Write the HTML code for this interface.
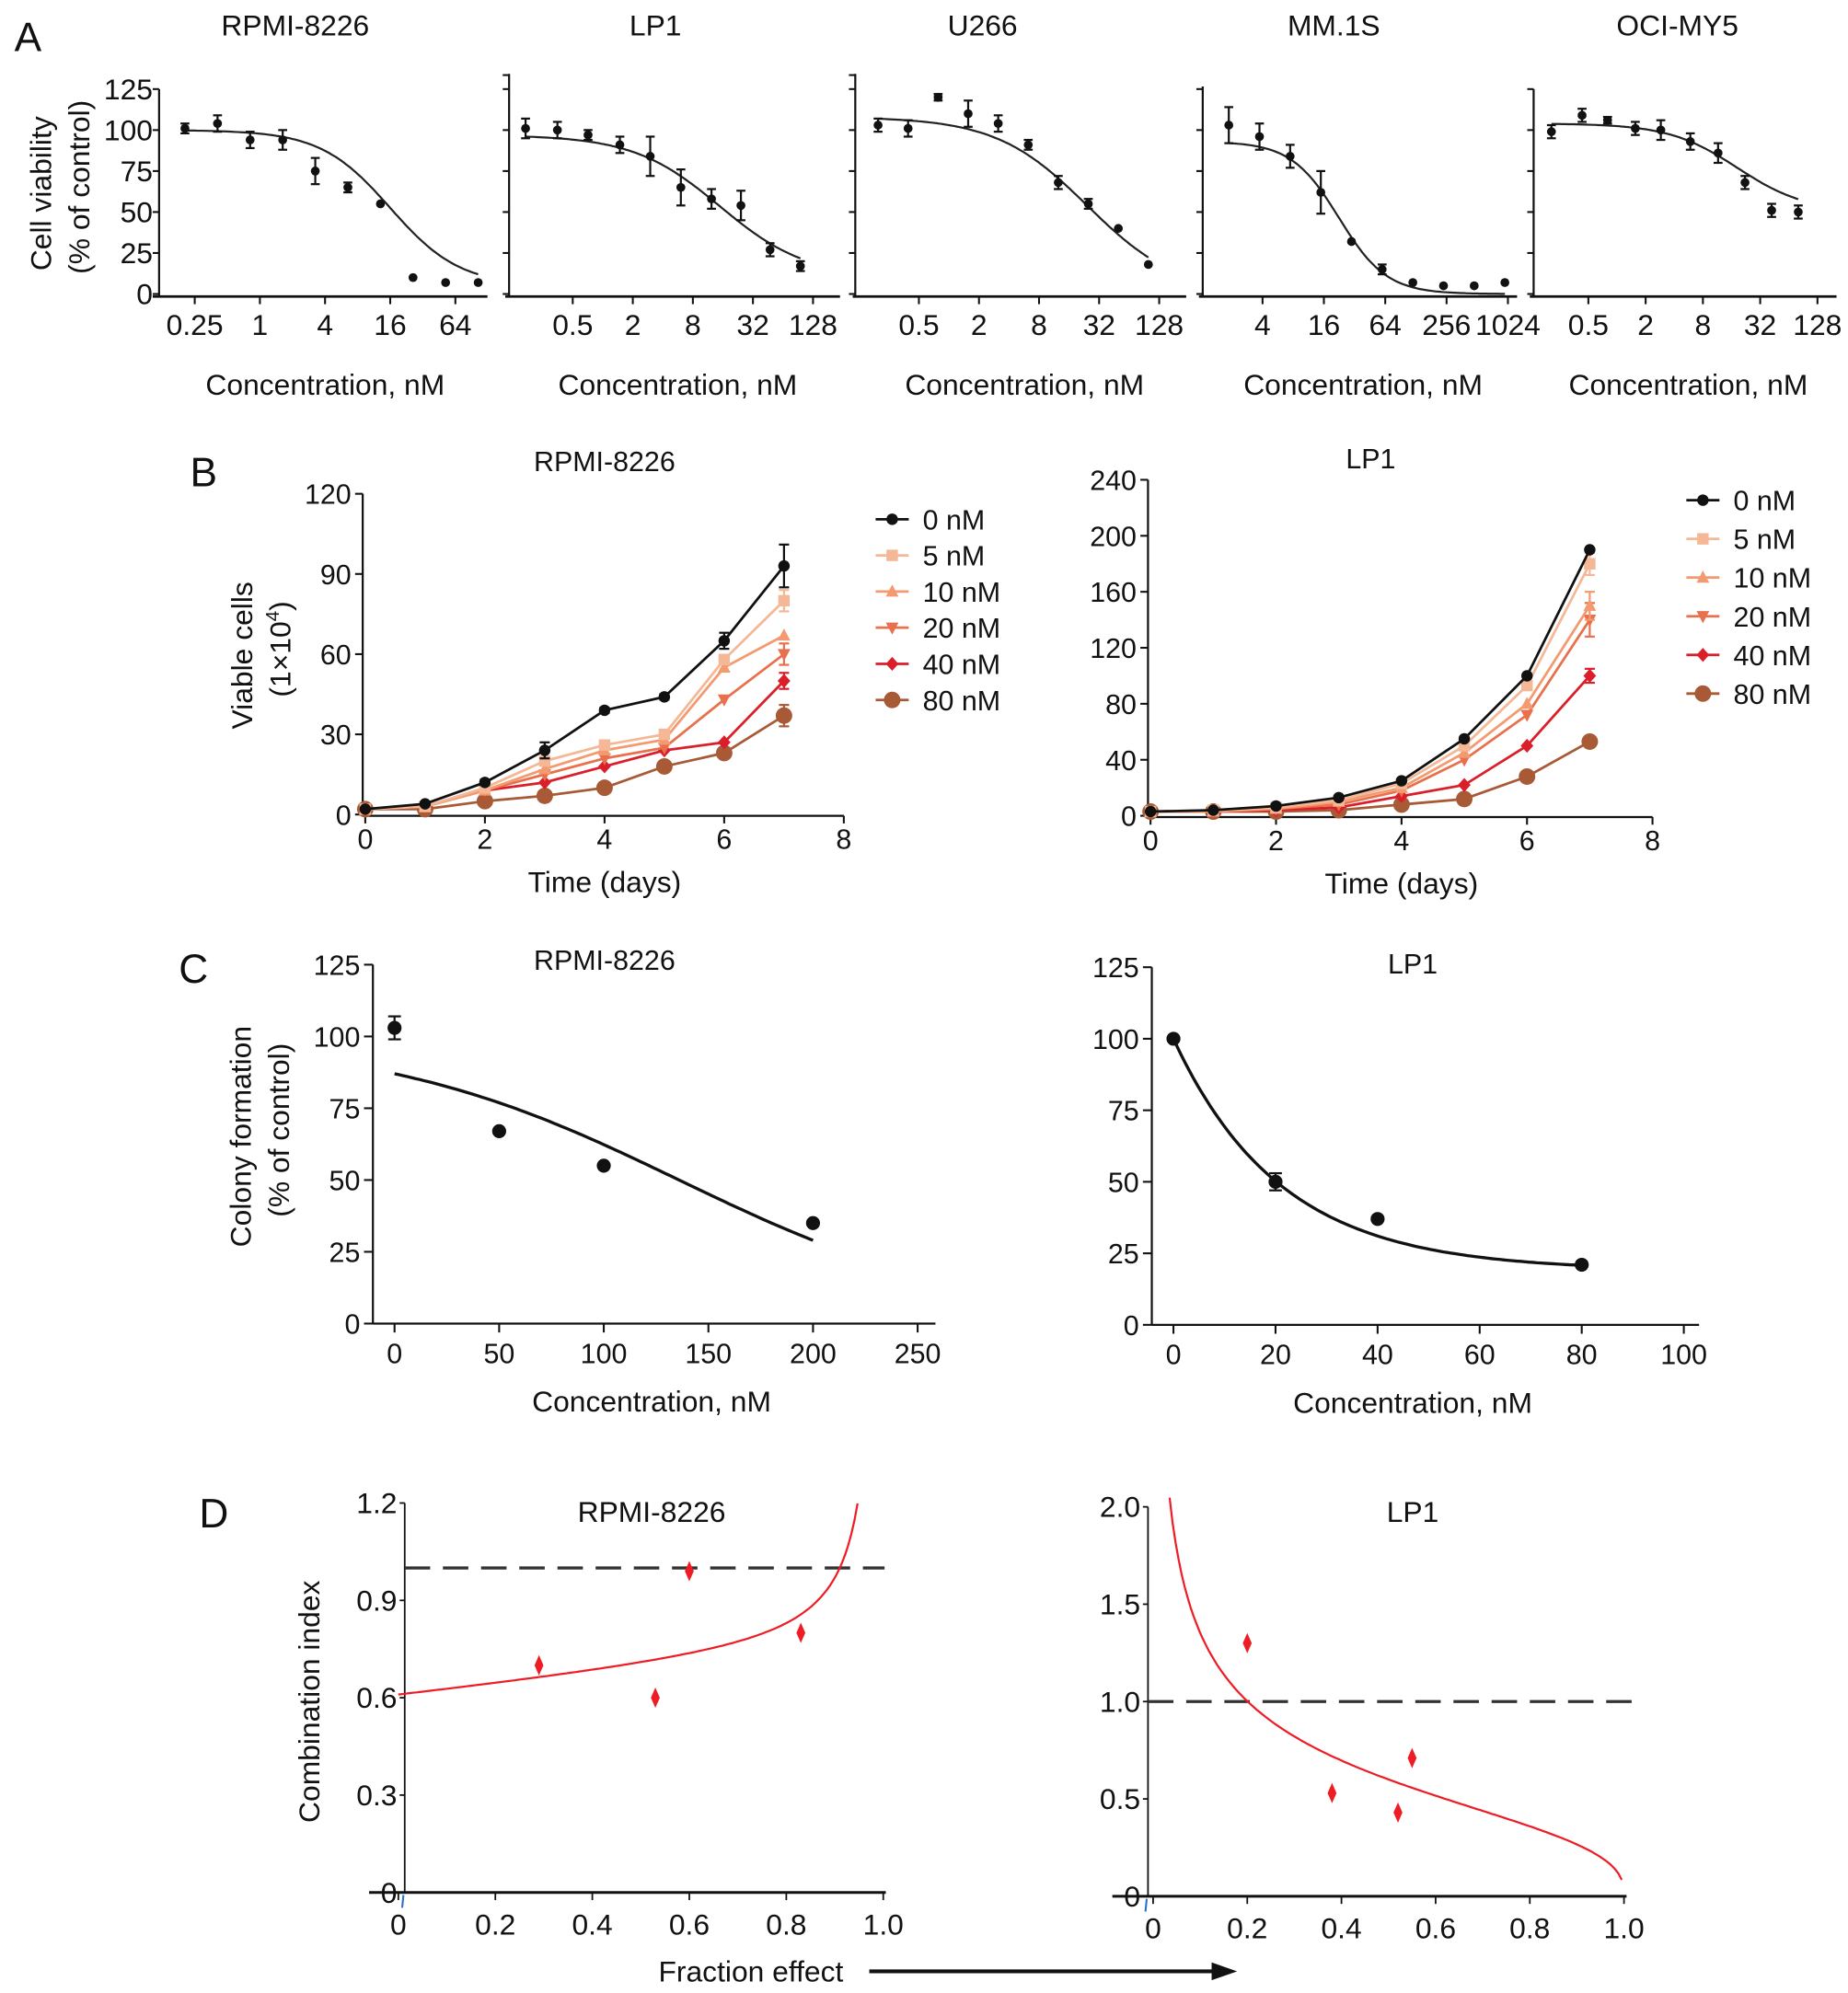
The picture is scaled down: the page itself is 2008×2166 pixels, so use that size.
<!DOCTYPE html>
<html><head><meta charset="utf-8"><style>
html,body{margin:0;padding:0;background:#fff}
svg{display:block}
text{font-family:"Liberation Sans",Arial,sans-serif;fill:#111}
.n{font-family:"Liberation Sans Narrow","Liberation Sans",sans-serif}
</style></head><body>
<svg id="fig" width="2008" height="2166" viewBox="0 0 1452 1566" preserveAspectRatio="none" xmlns="http://www.w3.org/2000/svg"></svg>
<script>
// ---------- Panel A data (log2 concentration, viability %, error) ----------
const aTitles = ["RPMI-8226","LP1","U266","MM.1S","OCI-MY5"];
const a1X = [-2.3,-1.3,-0.3,0.7,1.7,2.7,3.7,4.7,5.7,6.7];
const a1Y = [101,104,94,94,75,65,55,10,7,7];
const a1E = [3,5,5,6,8,3,0,0,0,0];
const a2X = [-2.57,-1.51,-0.49,0.57,1.58,2.6,3.62,4.6,5.57,6.58];
const a2Y = [101,100,97,91,84,65,58,54,27,17];
const a2E = [6,5,3,5,12,11,6,9,4,3];
const a3X = [-2.36,-1.36,-0.36,0.64,1.64,2.64,3.64,4.64,5.64,6.64];
const a3Y = [103,101,120,110,104,91,68,55,40,18];
const a3E = [4,5,2,8,5,3,4,3,0,0];
const a4X = [0.9,1.9,2.9,3.9,4.9,5.9,6.9,7.9,8.9,9.9];
const a4Y = [103,96,84,62,32,15,7,5,5,7];
const a4E = [11,8,7,13,0,3,0,0,0,0];
const a5X = [-2.29,-1.22,-0.33,0.64,1.53,2.56,3.53,4.47,5.4,6.33];
const a5Y = [99,109,106,101,100,93,86,68,51,50];
const a5E = [4,4,2,4,6,5,6,4,4,4];
const aTickLabels = [["0.25","1","4","16","64"],["0.5","2","8","32","128"],["0.5","2","8","32","128"],["4","16","64","256","1024"],["0.5","2","8","32","128"]];
const aTickLog = [[-2,0,2,4,6],[-1,1,3,5,7],[-1,1,3,5,7],[2,4,6,8,10],[-1,1,3,5,7]];
const aYTicks = [0,25,50,75,100,125];
// fit params: top, bottom, midpoint (log2), hill
const aFitTop = [100,97,108,93,104];
const aFitBot = [5,10,0,0,50];
const aFitMid = [4.0,3.9,4.6,4.49,4.2];
const aFitHill = [1.35,1.0,0.95,1.85,1.2];

// ---------- Panel B data ----------
const bDays = [0,1,2,3,4,5,6,7];
const bLabels = ["0 nM","5 nM","10 nM","20 nM","40 nM","80 nM"];
const bL0 = [2,4,12,24,39,44,65,93];
const bL5 = [2,3,10,20,26,30,58,80];
const bL10 = [2,3,9,17,24,28,55,67];
const bL20 = [2,3,9,15,21,25,43,60];
const bL40 = [2,3,9,12,18,24,27,50];
const bL80 = [2,2,5,7,10,18,23,37];
const bLErr0 = [0,0,1,3,1,1,3,8];
const bLErrLast = [0,4,0,4,3,4];
const bR0 = [3,4,7,13,25,55,100,190];
const bR5 = [3,4,6,11,23,50,93,180];
const bR10 = [3,3,5,10,20,45,80,150];
const bR20 = [3,3,5,8,18,40,72,140];
const bR40 = [3,3,4,6,14,22,50,100];
const bR80 = [3,3,3,4,8,12,28,53];
const bRErrLast = [0,8,10,12,5,3];
const bLeftTicks = [0,30,60,90,120];
const bRightTicks = [0,40,80,120,160,200,240];

// ---------- Panel C data ----------
const cLX = [0,50,100,200];
const cLY = [103,67,55,35];
const cLE = [4,0,0,0];
const cRX = [0,20,40,80];
const cRY = [100,50,37,21];
const cRE = [0,3,0,0];
const cLXTicks = [0,50,100,150,200,250];
const cRXTicks = [0,20,40,60,80,100];
const cYTicks = [0,25,50,75,100,125];

// ---------- Panel D data ----------
const dLX = [0.29,0.53,0.60,0.83];
const dLY = [0.70,0.60,0.99,0.80];
const dRX = [0.20,0.38,0.52,0.55];
const dRY = [1.30,0.53,0.43,0.71];
const dXTicks = [0,0.2,0.4,0.6,0.8,1.0];
const dXTickLabels = ["0","0.2","0.4","0.6","0.8","1.0"];
const dLYTicks = [0,0.3,0.6,0.9,1.2];
const dLYTickLabels = ["0","0.3","0.6","0.9","1.2"];
const dRYTicks = [0,0.5,1.0,1.5,2.0];
const dRYTickLabels = ["0","0.5","1.0","1.5","2.0"];

const NS = "http://www.w3.org/2000/svg";
const svg = document.getElementById('fig');
function mk(tag, parent, attrs){ const e=document.createElementNS(NS,tag); for(const k in attrs) e.setAttribute(k,attrs[k]); (parent||svg).appendChild(e); return e; }
function txt(parent, x, y, s, size, anchor, cls){ const t=mk('text',parent,{x:x,y:y,'font-size':size,'text-anchor':anchor||'middle'}); if(cls) t.setAttribute('class',cls); t.textContent=s; return t; }
function line(parent,x1,y1,x2,y2,w,col,dash){ const l=mk('line',parent,{x1:x1,y1:y1,x2:x2,y2:y2,stroke:col||'#111','stroke-width':w||1.5}); if(dash) l.setAttribute('stroke-dasharray',dash); return l; }
function errBar(parent,x,y1,y2,w,col){ line(parent,x,y1,x,y2,1.6,col); line(parent,x-w,y1,x+w,y1,1.6,col); line(parent,x-w,y2,x+w,y2,1.6,col); }

// panel letters
[["A",22,40,"panel-a-label"],["B",160,382,"panel-b-label"],["C",152,772,"panel-c-label"],["D",168,1200,"panel-d-label"]].forEach(p=>{
  const t=txt(svg,p[1],p[2],p[0],32,'middle');
  
  
});

// ================= PANEL A =================
const aX = [a1X,a2X,a3X,a4X,a5X], aY=[a1Y,a2Y,a3Y,a4Y,a5Y], aE=[a1E,a2E,a3E,a4E,a5E];
const aGeo = [
 {yx:125,xl:120,xr:383,x0:153,l0:-2,u:25.6,atop:70,tc:232},
 {yx:400,xl:397,xr:660,x0:450,l0:-1,u:23.6,atop:58,tc:515},
 {yx:672,xl:670,xr:932,x0:722,l0:-1,u:23.6,atop:58,tc:772},
 {yx:945,xl:942,xr:1192,x0:992,l0:2,u:24.1,atop:68,tc:1048},
 {yx:1205,xl:1202,xr:1443,x0:1248,l0:-1,u:22.5,atop:70,tc:1318}];
const aY0 = 231, aTop = 70;
for(let p=0;p<5;p++){
  const G=aGeo[p];
  const g=mk('g');
  
  
  const sx=l=>G.x0+(l-G.l0)*G.u;
  const sy=v=>aY0-(v/125)*(aY0-aTop);
  const title=txt(g,G.tc,28,aTitles[p],23,'middle');
  
  
  const ya=line(g,G.yx,G.atop,G.yx,233,1.6);
  
  
  const xa=line(g,G.xl,233,G.xr,233,2);
  
  
  const yts = (G.atop<65)?aYTicks.map(v=>v).concat([]) : aYTicks;
  yts.forEach(v=>{ line(g,G.yx-5,sy(v),G.yx,sy(v),1.5);
    if(p===0){ const t=txt(g,G.yx-5,sy(v)+8,String(v),23,'end','n');   } });
  if(G.atop<65) line(g,G.yx-5,G.atop+1,G.yx,G.atop+1,1.5);
  aTickLog[p].forEach((l,i)=>{ line(g,sx(l),233,sx(l),239,1.5);
    const t=txt(g,sx(l),263,aTickLabels[p][i],23,'middle','n');
    
     });
  const xl=txt(g,(G.xl+G.xr)/2+4,310,"Concentration, nM",23,'middle','n');
  
  
  // fit curve
  let d=''; const lo=aX[p][0], hi=aX[p][aX[p].length-1];
  for(let k=0;k<=120;k++){ const l=lo+(hi-lo)*k/120; const v=aFitBot[p]+(aFitTop[p]-aFitBot[p])/(1+Math.pow(2,(l-aFitMid[p])*aFitHill[p])); d+=(k?'L':'M')+sx(l).toFixed(1)+','+sy(v).toFixed(1); }
  const c=mk('path',g,{d:d,fill:'none',stroke:'#222','stroke-width':1.6});
  
  
  aX[p].forEach((l,i)=>{ const x=sx(l), y=sy(aY[p][i]);
    if(aE[p][i]>0) errBar(g,x,sy(aY[p][i]+aE[p][i]),sy(aY[p][i]-aE[p][i]),3.5,'#111');
    const m=mk('circle',g,{cx:x,cy:y,r:3.5,fill:'#111'});
    
     });
}
const ayt=mk('g');


const ayt1=txt(ayt,0,0,"Cell viability",23,'middle'); ayt1.setAttribute('transform','translate(40,152) rotate(-90)');
const ayt2=txt(ayt,0,0,"(% of control)",23,'middle'); ayt2.setAttribute('transform','translate(70,147) rotate(-90)');

// ================= markers =================
const bColors = ['#111111','#f5b896','#f39a70','#e8704c','#db1f2a','#a85a36'];
const bShapes = ['circle','square','tri','tridown','diamond','bigcircle'];
function marker(g,shape,x,y,col){
  if(shape==='circle') return mk('circle',g,{cx:x,cy:y,r:4.5,fill:col});
  if(shape==='bigcircle') return mk('circle',g,{cx:x,cy:y,r:6.5,fill:col});
  if(shape==='square') return mk('rect',g,{x:x-4.5,y:y-4.5,width:9,height:9,fill:col});
  if(shape==='tri') return mk('polygon',g,{points:`${x},${y-5.5} ${x+5},${y+4} ${x-5},${y+4}`,fill:col});
  if(shape==='tridown') return mk('polygon',g,{points:`${x},${y+5.5} ${x+5},${y-4} ${x-5},${y-4}`,fill:col});
  return mk('polygon',g,{points:`${x},${y-5.5} ${x+5},${y} ${x},${y+5.5} ${x-5},${y}`,fill:col});
}

// ================= PANEL B =================
function panelB(cfg){
  const g=mk('g');
  
  
  const sx=d=>cfg.x0+d*cfg.ud, sy=v=>cfg.y0-v*cfg.uv;
  const t=txt(g,cfg.tc,cfg.ty,cfg.title,22,'middle');
  
  
  const ya=line(g,cfg.x0-2,sy(cfg.yt[cfg.yt.length-1]),cfg.x0-2,cfg.y0+1,1.6);
  
  
  const xa=line(g,cfg.x0-2,cfg.y0+1,sx(8),cfg.y0+1,1.6);
  
  
  cfg.yt.forEach(v=>{ line(g,cfg.x0-8,sy(v),cfg.x0-2,sy(v),1.5); const l=txt(g,cfg.x0-11,sy(v)+8,String(v),22,'end');   });
  [0,2,4,6,8].forEach(v=>{ line(g,sx(v),cfg.y0+1,sx(v),cfg.y0+7,1.5); const l=txt(g,sx(v),cfg.y0+27,String(v),22,'middle');   });
  const xt=txt(g,sx(4),cfg.y0+61,"Time (days)",23,'middle');
  
  
  for(let s=cfg.series.length-1;s>=0;s--){
    const vals=cfg.series[s], col=bColors[s];
    const sg=mk('g',g);
    
    
    const pl=mk('polyline',sg,{points:bDays.map((d,i)=>sx(d)+','+sy(vals[i])).join(' '),fill:'none',stroke:col,'stroke-width':2});
    
    
    bDays.forEach((d,i)=>{
      let e=0; if(s===0) e=cfg.err0[i]; else if(i===7) e=cfg.errLast[s];
      if(e>0) errBar(sg,sx(d),sy(vals[i]+e),sy(vals[i]-e),4,col);
      const m=marker(sg,bShapes[s],sx(d),sy(vals[i]),col);
      
      
    });
  }
  const lg=mk('g',g);
  
  
  bLabels.forEach((lab,i)=>{
    const y=cfg.ly+i*cfg.lstep;
    const e=mk('g',lg);
    
    
    line(e,cfg.lx,y,cfg.lx+26,y,2,bColors[i]);
    marker(e,bShapes[i],cfg.lx+13,y,bColors[i]);
    txt(e,cfg.lx+37,y+8,lab,22,'start');
  });
}
panelB({name:'growth-chart-rpmi-8226',title:'RPMI-8226',tc:475,ty:370,x0:287,ud:47,y0:640,uv:252/120,yt:bLeftTicks,series:[bL0,bL5,bL10,bL20,bL40,bL80],err0:bLErr0,errLast:bLErrLast,lx:688,ly:408,lstep:28.4});
panelB({name:'growth-chart-lp1',title:'LP1',tc:1077,ty:368,x0:904,ud:49.3,y0:641,uv:264/240,yt:bRightTicks,series:[bR0,bR5,bR10,bR20,bR40,bR80],err0:[0,0,0,0,0,0,0,0],errLast:bRErrLast,lx:1325,ly:393,lstep:30.4});
const byt=mk('g');


const byt1=txt(byt,0,0,"Viable cells",23,'middle'); byt1.setAttribute('transform','translate(198,515) rotate(-90)');
const byt2=mk('text',byt,{'font-size':23,'text-anchor':'middle',transform:'translate(228,510) rotate(-90)'});
byt2.innerHTML='(1×10<tspan font-size="15" dy="-9">4</tspan><tspan dy="9">)</tspan>';

// ================= PANEL C =================
function panelC(cfg){
  const g=mk('g');
  
  
  const sx=v=>cfg.x0+v*cfg.ux, sy=v=>cfg.y0-v*cfg.uy;
  const t=txt(g,cfg.tc,cfg.ty,cfg.title,22,'middle');
  
  
  const ya=line(g,cfg.ax,sy(125),cfg.ax,cfg.y0,1.6);
  
  
  const xa=line(g,cfg.ax,cfg.y0,cfg.xend,cfg.y0,1.6);
  
  
  cYTicks.forEach(v=>{ line(g,cfg.ax-7,sy(v),cfg.ax,sy(v),1.5); const l=txt(g,cfg.ax-10,sy(v)+8,String(v),22,'end');   });
  cfg.xt.forEach(v=>{ line(g,sx(v),cfg.y0,sx(v),cfg.y0+7,1.5); const l=txt(g,sx(v),cfg.y0+31,String(v),22,'middle');   });
  const xt=txt(g,cfg.xtc,cfg.y0+69,"Concentration, nM",23,'middle');
  
  
  let d=''; for(let k=0;k<=100;k++){ const v=cfg.fitLo+(cfg.fitHi-cfg.fitLo)*k/100; d+=(k?'L':'M')+sx(v).toFixed(1)+','+sy(cfg.fit(v)).toFixed(1); }
  const c=mk('path',g,{d:d,fill:'none',stroke:'#111','stroke-width':2.4});
  
  
  cfg.X.forEach((v,i)=>{ if(cfg.E[i]>0) errBar(g,sx(v),sy(cfg.Y[i]+cfg.E[i]),sy(cfg.Y[i]-cfg.E[i]),5,'#111');
    const m=mk('circle',g,{cx:sx(v),cy:sy(cfg.Y[i]),r:5.5,fill:'#111'});
    
     });
}
panelC({name:'colony-chart-rpmi-8226',title:'RPMI-8226',tc:475,ty:762,x0:310,ux:82.2/50,y0:1040,uy:282/125,ax:293,xend:735,xt:cLXTicks,xtc:512,X:cLX,Y:cLY,E:cLE,fitLo:0,fitHi:200,fit:v=>100/(1+Math.exp((v-136)/71.5))});
panelC({name:'colony-chart-lp1',title:'LP1',tc:1110,ty:765,x0:922,ux:80.2/20,y0:1041,uy:281/125,ax:905,xend:1335,xt:cRXTicks,xtc:1110,X:cRX,Y:cRY,E:cRE,fitLo:0,fitHi:80,fit:v=>19+81*Math.exp(-v/21)});
const cyt=mk('g');


const cyt1=txt(cyt,0,0,"Colony formation",23,'middle'); cyt1.setAttribute('transform','translate(197,893) rotate(-90)');
const cyt2=txt(cyt,0,0,"(% of control)",23,'middle'); cyt2.setAttribute('transform','translate(227,888) rotate(-90)');

// ================= PANEL D =================
function panelD(cfg){
  const g=mk('g');
  
  
  const sx=v=>cfg.x0+v*cfg.ux, sy=v=>cfg.y0-v*cfg.uy;
  const t=txt(g,cfg.tc,1196,cfg.title,23,'middle','n');
  
  
  const ya=line(g,cfg.ax,sy(cfg.yt[cfg.yt.length-1]),cfg.ax,cfg.y0,1.3);
  
  
  const xa=line(g,cfg.ax-28,cfg.y0,sx(1.0)+2,cfg.y0,2.2);
  
  
  cfg.yt.forEach((v,i)=>{ line(g,cfg.ax-4,sy(v),cfg.ax,sy(v),1.3); const l=txt(g,cfg.ax-6,sy(v)+8,cfg.ytl[i],23,'end','n');   });
  dXTicks.forEach((v,i)=>{ line(g,sx(v),cfg.y0,sx(v),cfg.y0+6,1.3); const l=txt(g,sx(v),cfg.y0+33,dXTickLabels[i],23,'middle','n');   });
  const ref=line(g,cfg.ax,sy(1.0),cfg.dashEnd,sy(1.0),2.4,'#333','20,10');
  
  
  let d=''; for(let k=0;k<=150;k++){ const v=cfg.fitLo+(cfg.fitHi-cfg.fitLo)*k/150; d+=(k?'L':'M')+sx(v).toFixed(1)+','+sy(cfg.fit(v)).toFixed(1); }
  const c=mk('path',g,{d:d,fill:'none',stroke:'#ee1c25','stroke-width':1.6});
  
  
  cfg.X.forEach((v,i)=>{ const x=sx(v), y=sy(cfg.Y[i]);
    const m=mk('polygon',g,{points:`${x},${y-8} ${x+3.5},${y} ${x},${y+8} ${x-3.5},${y}`,fill:'#ee1c25'});
    
     });
  mk('line',g,{x1:cfg.ax-1,y1:cfg.y0+2,x2:cfg.ax-2,y2:cfg.y0+12,stroke:'#2a6fc9','stroke-width':1.5});
}
panelD({name:'ci-chart-rpmi-8226',title:'RPMI-8226',tc:512,x0:313,ux:381,y0:1487,uy:255,ax:318,yt:dLYTicks,ytl:dLYTickLabels,dashEnd:695,X:dLX,Y:dLY,fitLo:0,fitHi:0.947,fit:v=>0.61+0.15*v+0.025*v/(1-v)});
panelD({name:'ci-chart-lp1',title:'LP1',tc:1110,x0:906,ux:370,y0:1490,uy:153,ax:902,yt:dRYTicks,ytl:dRYTickLabels,dashEnd:1283,X:dRX,Y:dRY,fitLo:0.035,fitHi:0.995,fit:v=>0.6*Math.pow((1-v)/v,0.37)});
const dyt=txt(svg,0,0,"Combination index",23,'middle');
dyt.setAttribute('transform','translate(251,1337) rotate(-90)');


const fe=txt(svg,590,1557,"Fraction effect",23,'middle','n');


const arr=mk('g');


line(arr,683,1549,955,1549,3,'#111');
mk('polygon',arr,{points:'952,1542 972,1549 952,1556',fill:'#111'});
</script>
</body></html>
